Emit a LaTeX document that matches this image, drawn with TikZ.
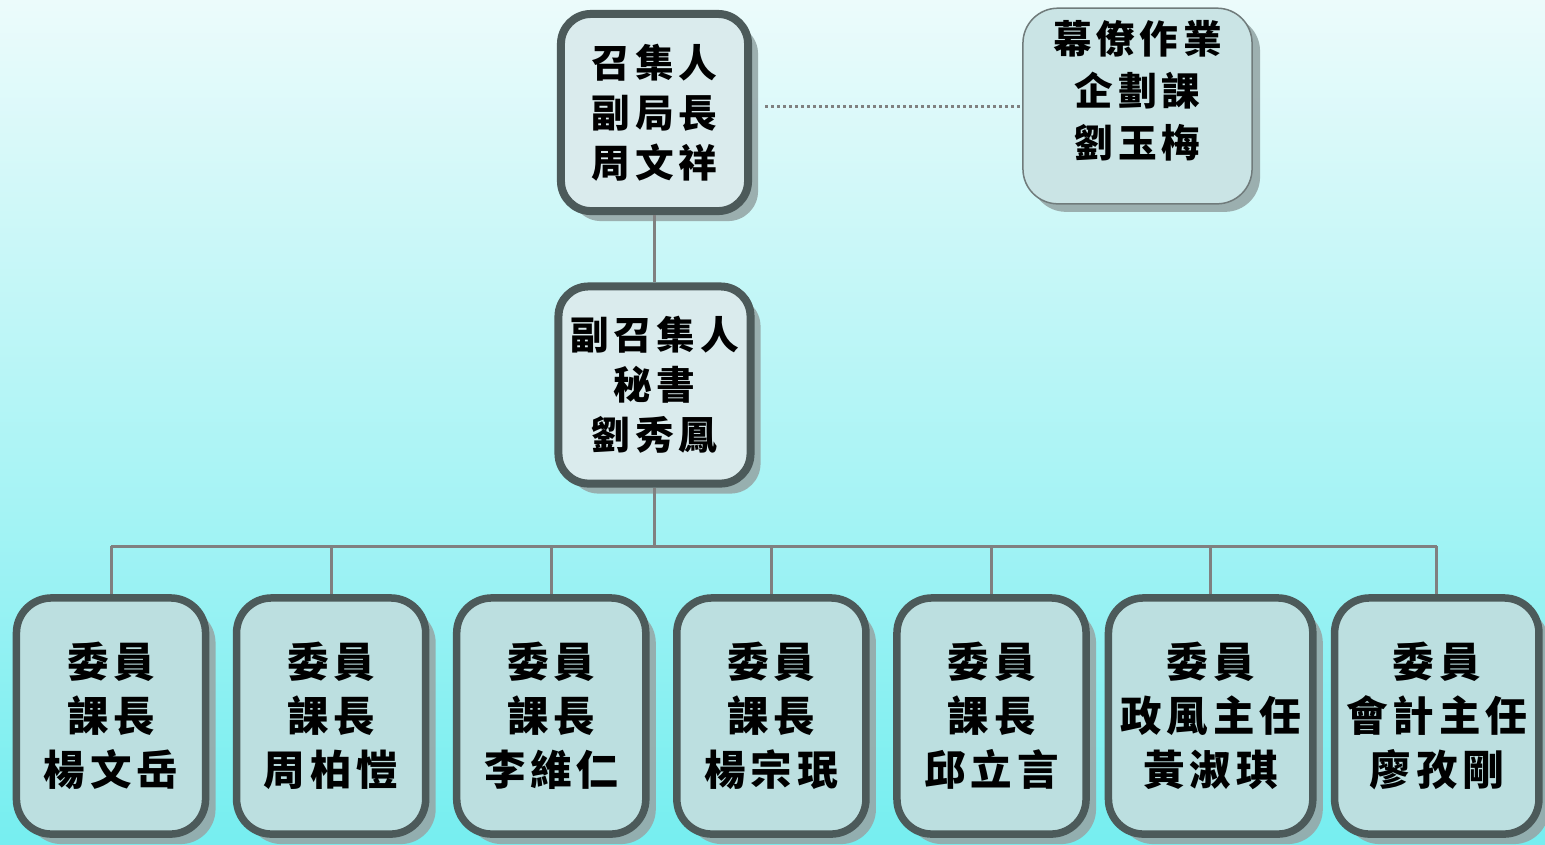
\documentclass[tikz,border=0pt]{standalone}
\usepackage{fontspec}
\newfontfamily\cjk{Noto Sans CJK TC}[LetterSpace=12]
\usetikzlibrary{shadows}

\definecolor{bgtop}{RGB}{236,251,251}
\definecolor{bgmid}{RGB}{196,246,247}
\definecolor{bgbottom}{RGB}{118,238,240}
\definecolor{boxline}{RGB}{76,90,90}
\definecolor{headfill}{RGB}{218,235,237}
\definecolor{staffill}{RGB}{202,228,229}
\definecolor{memberfill}{RGB}{188,223,224}
\definecolor{shadowgray}{RGB}{150,168,168}
\definecolor{linkgray}{RGB}{128,128,128}

\begin{document}
\begin{tikzpicture}[x=0.01cm, y=-0.01cm, node distance=2.20cm,
  head/.style={draw=boxline, line width=0.08cm, fill=headfill, rounded corners=0.3cm,
    minimum width=1.87cm, minimum height=1.97cm, align=center,
    font=\cjk\bfseries\fontsize{11}{14.2}\selectfont,
    drop shadow={shadow xshift=0.1cm, shadow yshift=-0.1cm, fill=shadowgray, opacity=0.9}},
  staffbox/.style={draw=boxline!80, line width=0.015cm, fill=staffill, rounded corners=0.35cm,
    minimum width=2.29cm, minimum height=1.90cm, align=center, text depth=0.35cm,
    font=\cjk\bfseries\fontsize{11}{14.8}\selectfont,
    drop shadow={shadow xshift=0.08cm, shadow yshift=-0.08cm, fill=shadowgray, opacity=0.9}},
  member/.style={draw=boxline, line width=0.075cm, fill=memberfill, rounded corners=0.35cm,
    minimum width=1.89cm, minimum height=2.36cm, align=center,
    font=\cjk\bfseries\fontsize{11.8}{15.4}\selectfont,
    drop shadow={shadow xshift=0.1cm, shadow yshift=-0.1cm, fill=shadowgray, opacity=0.9}},
  link/.style={draw=linkgray, line width=0.03cm},
  dotline/.style={draw=linkgray, line width=0.03cm, dash pattern=on 0.03cm off 0.03cm}]

% background
\useasboundingbox (0,0) rectangle (1545,844);
\shade[top color=bgtop, middle color=bgmid, bottom color=bgbottom] (0,0) rectangle (1545,844);

% nodes
\node (conv) [head] at (654.5, 112.5) {召集人\\副局長\\周文祥};
\node (deputy) [head] at (654.5, 385) {副召集人\\秘書\\劉秀鳳};
\node (staff) [staffbox] at (1137.5, 106) {幕僚作業\\企劃課\\劉玉梅};

\node (m1) [member] at (111, 716) {委員\\課長\\楊文岳};
\node (m2) [member, right of=m1] {委員\\課長\\周柏愷};
\node (m3) [member, right of=m2] {委員\\課長\\李維仁};
\node (m4) [member, right of=m3] {委員\\課長\\楊宗珉};
\node (m5) [member, right of=m4] {委員\\課長\\邱立言};
\node (m6) [member, right of=m5, node distance=2.19cm, minimum width=2.01cm] {委員\\政風主任\\黃淑琪};
\node (m7) [member, right of=m6, node distance=2.26cm, minimum width=2.01cm] {委員\\會計主任\\廖孜剛};

\coordinate (bus) at (654.5, 546);

% lines
\path[link] (conv) edge (deputy);
\path[dotline] ([xshift=0.13cm]conv.east |- staff.west) edge (staff.west);
\path[link] (deputy.south) edge (deputy.south |- bus);
\path[link] (m1.north |- bus) edge (m7.north |- bus);
\path[link] (m1.north |- bus) edge (m1.north);
\path[link] (m2.north |- bus) edge (m2.north);
\path[link] (m3.north |- bus) edge (m3.north);
\path[link] (m4.north |- bus) edge (m4.north);
\path[link] (m5.north |- bus) edge (m5.north);
\path[link] (m6.north |- bus) edge (m6.north);
\path[link] (m7.north |- bus) edge (m7.north);

\end{tikzpicture}
\end{document}
